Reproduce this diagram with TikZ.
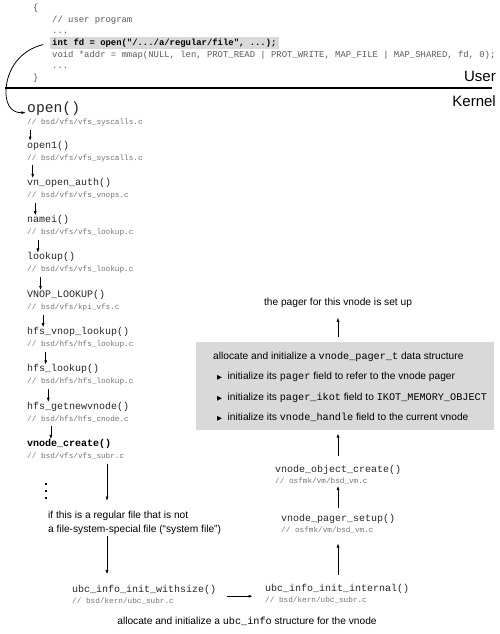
\documentclass[tikz,border=0pt]{standalone}
\usepackage{fontspec}
\setmainfont{Liberation Sans}
\setmonofont{Liberation Mono}
\newfontfamily\symfont{DejaVu Sans}
\usetikzlibrary{arrows.meta, positioning, fit, backgrounds}

\newcommand{\bul}{{\symfont\fontsize{6.5}{7}\selectfont ▶}\hspace{5.5pt}}

\begin{document}
\begin{tikzpicture}[
        x=1pt, y=-1pt,
        arr/.style={-{Latex[length=4.5pt,width=3pt]}, line width=0.8pt},
        code/.style={anchor=base west, inner sep=0pt, font=\ttfamily\fontsize{8.9}{10}\selectfont, text=black!65},
        fn/.style={anchor=base west, inner sep=1pt, font=\ttfamily\fontsize{10}{12}\selectfont, text=black!85},
        cmt/.style={anchor=base west, inner sep=1pt, font=\ttfamily\fontsize{7.7}{9}\selectfont, text=black!55},
        note/.style={inner sep=1pt, align=left, font=\fontsize{10.2}{14}\selectfont}
        ]
        \useasboundingbox (0,0) rectangle (500,634);

        % User program
        \node[code] (lbrace) at (33,11) {\{};
        \node[code] (ucomment) at (52,22.5) {// user program};
        \node[code] (udots) at (52,34) {...};
        \node[code, text=black, font=\ttfamily\bfseries\fontsize{8.9}{10}\selectfont, fill=black!15, inner xsep=2pt, inner ysep=1.5pt, text height=7pt, text depth=2pt] (intfd) at (50,45.5) {int fd = open("/.../a/regular/file", ...);};
        \node[code] (mmapline) at (52,57) {void *addr = mmap(NULL, len, PROT\_READ | PROT\_WRITE, MAP\_FILE | MAP\_SHARED, fd, 0);};
        \node[code] (ldots) at (52,68.5) {...};
        \node[code] (rbrace) at (33,80) {\}};

        % User / Kernel boundary
        \draw[line width=2.6pt] (5,88) -- (492,88);
        \node[anchor=base east, inner sep=0pt, font=\fontsize{15}{18}\selectfont] (user) at (496,81.5) {User};
        \node[anchor=base east, inner sep=0pt, font=\fontsize{15}{18}\selectfont] (kernel) at (496,106.5) {Kernel};

        % Call chain
        \node[fn, font=\ttfamily\fontsize{14.7}{16}\selectfont] (open) at (26,112.5) {open()};
        \node[cmt] (open-c) at ([yshift=-12pt]open.base west) {// bsd/vfs/vfs\_syscalls.c};
        \node[fn] (open1) at ([yshift=-23.5pt]open-c.base west) {open1()};
        \node[cmt] (open1-c) at ([yshift=-12pt]open1.base west) {// bsd/vfs/vfs\_syscalls.c};
        \node[fn] (vnopen) at ([yshift=-25.3pt]open1-c.base west) {vn\_open\_auth()};
        \node[cmt] (vnopen-c) at ([yshift=-12pt]vnopen.base west) {// bsd/vfs/vfs\_vnops.c};
        \node[fn] (namei) at ([yshift=-25.3pt]vnopen-c.base west) {namei()};
        \node[cmt] (namei-c) at ([yshift=-12pt]namei.base west) {// bsd/vfs/vfs\_lookup.c};
        \node[fn] (lookup) at ([yshift=-25.3pt]namei-c.base west) {lookup()};
        \node[cmt] (lookup-c) at ([yshift=-12pt]lookup.base west) {// bsd/vfs/vfs\_lookup.c};
        \node[fn] (vnoplookup) at ([yshift=-25.3pt]lookup-c.base west) {VNOP\_LOOKUP()};
        \node[cmt] (vnoplookup-c) at ([yshift=-12pt]vnoplookup.base west) {// bsd/vfs/kpi\_vfs.c};
        \node[fn] (hfsvnop) at ([yshift=-25.3pt]vnoplookup-c.base west) {hfs\_vnop\_lookup()};
        \node[cmt] (hfsvnop-c) at ([yshift=-12pt]hfsvnop.base west) {// bsd/hfs/hfs\_lookup.c};
        \node[fn] (hfslookup) at ([yshift=-25.3pt]hfsvnop-c.base west) {hfs\_lookup()};
        \node[cmt] (hfslookup-c) at ([yshift=-12pt]hfslookup.base west) {// bsd/hfs/hfs\_lookup.c};
        \node[fn] (getnew) at ([yshift=-25.3pt]hfslookup-c.base west) {hfs\_getnewvnode()};
        \node[cmt] (getnew-c) at ([yshift=-12pt]getnew.base west) {// bsd/hfs/hfs\_cnode.c};
        \node[fn, text=black, font=\ttfamily\bfseries\fontsize{10}{12}\selectfont] (vcreate) at ([yshift=-25.3pt]getnew-c.base west) {vnode\_create()};
        \node[cmt] (vcreate-c) at ([yshift=-12pt]vcreate.base west) {// bsd/vfs/vfs\_subr.c};

        \foreach \y in {484,491,498}
            \fill (44.8,{\y-1.2}) rectangle ++(2.4,2.4);

        \coordinate (lcol) at (107,0);
        \coordinate (rcol) at (338,0);

        \node[note, anchor=west] (cond) at (47,523) {if this is a regular file that is not\\a file-system-special file (“system file”)};

        \node[fn] (withsize) at (71,592) {ubc\_info\_init\_withsize()};
        \node[cmt] (withsize-c) at ([yshift=-11pt]withsize.base west) {// bsd/kern/ubc\_subr.c};
        \node[fn] (internal) at (264,591) {ubc\_info\_init\_internal()};
        \node[cmt] (internal-c) at ([yshift=-11.5pt]internal.base west) {// bsd/kern/ubc\_subr.c};
        \node[fn] (setup) at (280,521) {vnode\_pager\_setup()};
        \node[cmt] (setup-c) at ([yshift=-11pt]setup.base west) {// osfmk/vm/bsd\_vm.c};
        \node[fn] (objcreate) at (274,472) {vnode\_object\_create()};
        \node[cmt] (objcreate-c) at ([yshift=-11.5pt]objcreate.base west) {// osfmk/vm/bsd\_vm.c};

        \node[note, anchor=base] (ubcnote) at (247,624.5) {allocate and initialize a \texttt{ubc\_info} structure for the vnode};

        % Pager box
        \node[note, anchor=base west] (pgtitle) at (212,359.5) {allocate and initialize a \texttt{vnode\_pager\_t} data structure};
        \node[note, anchor=base west] (pgone) at (216,379.5) {\bul initialize its \texttt{pager} field to refer to the vnode pager};
        \node[note, anchor=base west] (pgtwo) at (216,400.5) {\bul initialize its \texttt{pager\_ikot} field to \texttt{IKOT\_MEMORY\_OBJECT}};
        \node[note, anchor=base west] (pgthree) at (216,420.5) {\bul initialize its \texttt{vnode\_handle} field to the current vnode};
        \begin{scope}[on background layer]
            \node[fill=black!15, inner sep=0pt, fit={(196,342) (494,430)}] (pagerbox) {};
        \end{scope}
        \node[note, anchor=base] (pagerup) at (338,305.5) {the pager for this vnode is set up};

        % Arrows
        \draw[arr, shorten <=7pt] (intfd.west) .. controls (20,50) and (6,70) .. (6,92) .. controls (6,108) and (14,113) .. (open.base west);
        \foreach \a/\b [count=\k] in {open/open1, open1/vnopen, vnopen/namei, namei/lookup, lookup/vnoplookup, vnoplookup/hfsvnop, hfsvnop/hfslookup, hfslookup/getnew, getnew/vcreate}
            \draw[arr, shorten <=2.5pt, shorten >=-1.5pt] ([xshift={1.5pt+2.6pt*\k}]\a-c.south west) -- ([xshift={1.5pt+2.6pt*\k}]\b.north west);

        \draw[arr, shorten <=4pt, shorten >=9pt] (vcreate-c.south -| lcol) -- (cond.north -| lcol);
        \draw[arr, shorten >=9pt] (cond.south -| lcol) -- (withsize.north -| lcol);
        \draw[arr, shorten <=10pt, shorten >=11pt] (withsize.east |- withsize-c.north) -- (internal.west |- withsize-c.north);

        \draw[arr, shorten <=7.5pt, shorten >=9pt] (internal.north -| rcol) -- (setup-c.south -| rcol);
        \draw[arr, shorten <=5pt] (setup.north -| rcol) -- (objcreate-c.south -| rcol);
        \draw[arr, shorten <=8pt, shorten >=3pt] (objcreate.north -| rcol) -- (pagerbox.south -| rcol);
        \draw[arr, shorten <=5pt, shorten >=8.5pt] (pagerbox.north -| rcol) -- (pagerup.south -| rcol);
\end{tikzpicture}
\end{document}
